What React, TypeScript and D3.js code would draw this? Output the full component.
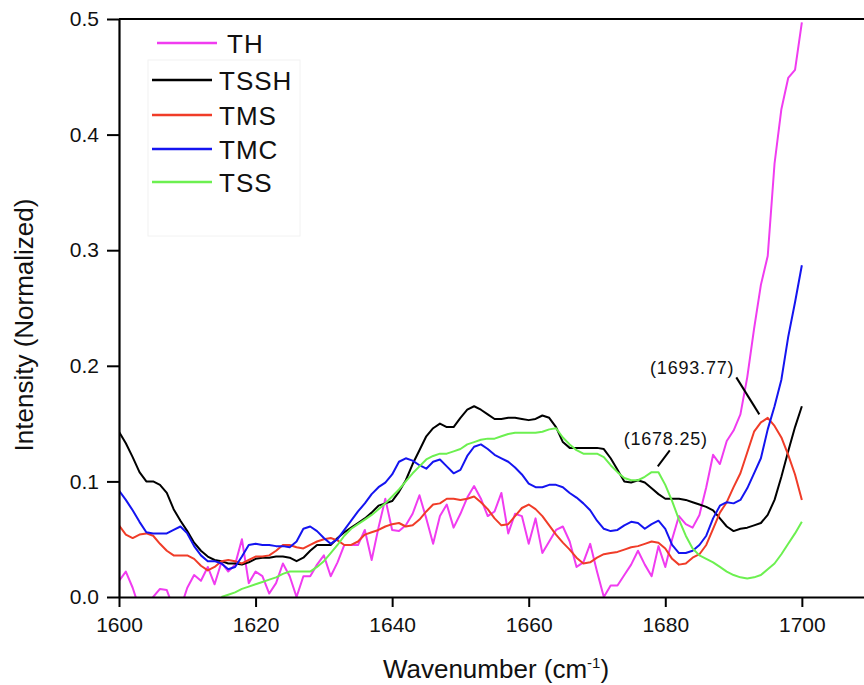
import * as d3 from 'd3';
import { useEffect, useRef } from 'react';

// wavenumber grid (cm-1), one point per unit
const wavenumbers = d3.range(1600, 1701);

const seriesNames = ['TH', 'TSSH', 'TMS', 'TMC', 'TSS'];
const seriesColors = ['#f03cf0', '#000000', '#f03c28', '#1414f0', '#6cf050'];

const TH = [
  0.014, 0.022, 0.008, -0.01, -0.01, 0.0, 0.007, 0.006, -0.01, -0.01,
  0.008, 0.019, 0.014, 0.026, 0.011, 0.03, 0.022, 0.028, 0.05, 0.012,
  0.022, 0.018, 0.003, 0.012, 0.029, 0.018, 0.0, 0.018, 0.018, 0.028,
  0.036, 0.018, 0.03, 0.045, 0.045, 0.045, 0.058, 0.032, 0.06, 0.085,
  0.058, 0.057, 0.062, 0.072, 0.088, 0.068, 0.046, 0.07, 0.08, 0.06,
  0.072, 0.086, 0.096, 0.085, 0.07, 0.074, 0.09, 0.055, 0.072, 0.07,
  0.046, 0.068, 0.038, 0.048, 0.058, 0.061, 0.048, 0.026, 0.03, 0.046,
  0.022, 0.0, 0.01, 0.01, 0.019, 0.028, 0.04, 0.028, 0.018, 0.044,
  0.026, 0.05, 0.07, 0.063, 0.06, 0.071, 0.095, 0.123, 0.115, 0.135,
  0.144, 0.158, 0.19, 0.232, 0.27, 0.295, 0.375, 0.422, 0.449, 0.456,
  0.497,
];

const TSSH = [
  0.143, 0.133, 0.121, 0.108, 0.1, 0.1, 0.097, 0.09, 0.076, 0.066,
  0.057, 0.047, 0.04, 0.035, 0.032, 0.031, 0.029, 0.029, 0.028, 0.03,
  0.033, 0.034, 0.034, 0.035, 0.035, 0.034, 0.031, 0.034, 0.04, 0.045,
  0.045, 0.045, 0.051, 0.056, 0.06, 0.064, 0.068, 0.073, 0.079, 0.081,
  0.083, 0.091, 0.101, 0.115, 0.127, 0.139, 0.146, 0.15, 0.147, 0.147,
  0.155, 0.162, 0.165, 0.162, 0.158, 0.154, 0.154, 0.155, 0.155, 0.154,
  0.153, 0.154, 0.157, 0.155, 0.147, 0.134, 0.129, 0.129, 0.129, 0.129,
  0.129, 0.128, 0.12, 0.11, 0.1, 0.099, 0.101, 0.099, 0.094, 0.089,
  0.085, 0.085, 0.085, 0.084, 0.082, 0.08, 0.078, 0.075, 0.068, 0.061,
  0.057, 0.059, 0.06, 0.062, 0.064, 0.071, 0.084, 0.104, 0.126, 0.147,
  0.165,
];

const TMS = [
  0.062, 0.054, 0.051, 0.054, 0.055, 0.053, 0.046, 0.04, 0.036, 0.036,
  0.036, 0.033, 0.027, 0.023, 0.026, 0.031, 0.032, 0.031, 0.029, 0.032,
  0.035, 0.035, 0.036, 0.04, 0.045, 0.045, 0.043, 0.042, 0.045, 0.048,
  0.05, 0.051, 0.049, 0.045, 0.045, 0.048, 0.054, 0.056, 0.058, 0.061,
  0.063, 0.064, 0.061, 0.062, 0.067, 0.074, 0.08, 0.081, 0.085, 0.085,
  0.084, 0.085, 0.087, 0.082, 0.076, 0.068, 0.062, 0.063, 0.07, 0.077,
  0.08, 0.076, 0.07, 0.062, 0.054, 0.047, 0.041, 0.034, 0.029, 0.03,
  0.034, 0.037, 0.038, 0.039, 0.041, 0.043, 0.044, 0.046, 0.048, 0.047,
  0.042, 0.033, 0.028, 0.029, 0.034, 0.037, 0.045, 0.059, 0.073, 0.082,
  0.095, 0.107, 0.125, 0.143, 0.151, 0.155, 0.148, 0.138, 0.123, 0.106,
  0.084,
];

const TMC = [
  0.092, 0.084, 0.075, 0.065, 0.056, 0.055, 0.055, 0.055, 0.058, 0.061,
  0.055, 0.044, 0.036, 0.031, 0.031, 0.029, 0.024, 0.026, 0.035, 0.045,
  0.046, 0.045, 0.045, 0.044, 0.044, 0.043, 0.048, 0.059, 0.061, 0.057,
  0.051, 0.046, 0.05, 0.058, 0.066, 0.074, 0.081, 0.089, 0.095, 0.099,
  0.106, 0.117, 0.12, 0.118, 0.114, 0.111, 0.117, 0.119, 0.113, 0.107,
  0.11, 0.122, 0.13, 0.132, 0.128, 0.123, 0.12, 0.117, 0.112, 0.106,
  0.098, 0.095, 0.095, 0.097, 0.097, 0.095, 0.09, 0.086, 0.081, 0.075,
  0.066, 0.059, 0.057, 0.058, 0.062, 0.065, 0.064, 0.059, 0.063, 0.066,
  0.059, 0.045, 0.038, 0.038, 0.04, 0.045, 0.053, 0.068, 0.079, 0.082,
  0.081, 0.084, 0.094, 0.107, 0.12, 0.145, 0.165, 0.188, 0.225, 0.255,
  0.287,
];

// TSS starts on the baseline around 1615
const TSS = [
  null, null, null, null, null, null, null, null, null, null,
  null, null, null, null, null, 0.0, 0.002, 0.004, 0.007, 0.009,
  0.011, 0.013, 0.015, 0.017, 0.02, 0.022, 0.022, 0.022, 0.022, 0.026,
  0.031, 0.038, 0.045, 0.053, 0.059, 0.063, 0.067, 0.071, 0.076, 0.081,
  0.087, 0.093, 0.1, 0.107, 0.113, 0.119, 0.122, 0.124, 0.124, 0.126,
  0.128, 0.132, 0.134, 0.136, 0.137, 0.137, 0.139, 0.141, 0.142, 0.142,
  0.142, 0.142, 0.143, 0.145, 0.146, 0.138, 0.132, 0.127, 0.124, 0.124,
  0.124, 0.121, 0.114, 0.108, 0.103, 0.101, 0.101, 0.104, 0.108, 0.108,
  0.097, 0.083, 0.067, 0.053, 0.042, 0.036, 0.033, 0.03, 0.026, 0.022,
  0.019, 0.017, 0.016, 0.017, 0.019, 0.024, 0.029, 0.037, 0.046, 0.055,
  0.065,
];

const seriesValues = [TH, TSSH, TMS, TMC, TSS];

const xTicks = [1600, 1620, 1640, 1660, 1680, 1700];
const yTicks = [0, 0.1, 0.2, 0.3, 0.4, 0.5];

// peak labels: [label, wavenumber, intensity at the leader's tip]
const peakLabels = [
  { label: '(1693.77)', wn: 1693.77, value: 0.158, dx: -23, dy: -37 },
  { label: '(1678.25)', wn: 1678.9, value: 0.113, dx: 12, dy: -16 },
];

const FONT = 'Liberation Sans, Arial, Helvetica, sans-serif';

const App = () => {
  const ref = useRef(null);

  useEffect(() => {
    const svg = d3.select(ref.current);
    svg.selectAll('*').remove();

    const width = 864;
    const height = 685;
    const margin = { top: 19, right: 0, bottom: 88, left: 119 };

    const x = d3.scaleLinear()
      .domain([1600, 1709.1])
      .range([margin.left, width - margin.right]);
    const y = d3.scaleLinear()
      .domain([0, 0.5])
      .range([height - margin.bottom, margin.top]);

    svg.append('defs').append('clipPath').attr('id', 'plot-clip')
      .append('rect')
      .attr('x', margin.left).attr('y', margin.top)
      .attr('width', width - margin.left - margin.right)
      .attr('height', height - margin.top - margin.bottom);

    // curves
    const line = d3.line<any>()
      .defined(d => d[1] !== null)
      .x(d => x(d[0]))
      .y(d => y(d[1]));

    const g = svg.append('g').attr('clip-path', 'url(#plot-clip)');
    seriesValues.forEach((vals, i) => {
      g.append('path')
        .datum(wavenumbers.map((w, j) => [w, vals[j]]))
        .attr('fill', 'none')
        .attr('stroke', seriesColors[i])
        .attr('stroke-width', 2)
        .attr('stroke-linejoin', 'round')
        .attr('d', line);
    });

    // axes
    const xAxis = d3.axisBottom(x).tickValues(xTicks).tickSize(10).tickSizeOuter(0).tickFormat(d3.format('d'));
    const yAxis = d3.axisLeft(y).tickValues(yTicks).tickSize(12).tickSizeOuter(0).tickFormat(d3.format('.1f'));

    const gx = svg.append('g')
      .attr('transform', `translate(0, ${y(0)})`)
      .call(xAxis);
    const gy = svg.append('g')
      .attr('transform', `translate(${margin.left}, 0)`)
      .call(yAxis);

    [gx, gy].forEach(a => {
      a.select('.domain').attr('stroke', '#000').attr('stroke-width', 2.2);
      a.selectAll('.tick line').attr('stroke', '#000').attr('stroke-width', 2);
      a.selectAll('.tick text')
        .attr('fill', '#111')
        .style('font-family', FONT)
        .style('font-size', '21px');
    });
    gx.selectAll('.tick text').attr('y', 0).attr('dy', 0).attr('transform', 'translate(0, 35)');
    gy.selectAll('.tick text').attr('x', -20);

    // top frame line
    svg.append('line')
      .attr('x1', margin.left).attr('x2', width)
      .attr('y1', y(0.5)).attr('y2', y(0.5))
      .attr('stroke', '#000').attr('stroke-width', 2.2);

    // axis titles
    const xt = svg.append('text')
      .attr('x', 496).attr('y', 678)
      .attr('text-anchor', 'middle')
      .style('font-family', FONT).style('font-size', '26px')
      .attr('fill', '#111');
    xt.append('tspan').text('Wavenumber (cm');
    xt.append('tspan').attr('dy', -10).style('font-size', '15px').text('-1');
    xt.append('tspan').attr('dy', 10).text(')');

    svg.append('text')
      .attr('transform', `translate(33, 325) rotate(-90)`)
      .attr('text-anchor', 'middle')
      .style('font-family', FONT).style('font-size', '26px')
      .attr('fill', '#111')
      .text('Intensity (Normalized)');

    // legend
    svg.append('rect')
      .attr('x', 148).attr('y', 60).attr('width', 152).attr('height', 176)
      .attr('fill', 'none').attr('stroke', '#f2f2f2').attr('stroke-width', 1);

    const legendRows = [
      { y: 43, x1: 157, x2: 217, tx: 227 },
      { y: 80, x1: 152, x2: 212, tx: 219 },
      { y: 115, x1: 152, x2: 212, tx: 219 },
      { y: 149, x1: 152, x2: 212, tx: 219 },
      { y: 182, x1: 152, x2: 212, tx: 219 },
    ];
    seriesNames.forEach((name, i) => {
      const r = legendRows[i];
      svg.append('line')
        .attr('x1', r.x1).attr('x2', r.x2).attr('y1', r.y).attr('y2', r.y)
        .attr('stroke', seriesColors[i]).attr('stroke-width', 2.5);
      svg.append('text')
        .attr('x', r.tx).attr('y', r.y + 9.5)
        .style('font-family', FONT).style('font-size', '26px')
        .style('letter-spacing', '1px')
        .attr('fill', '#111')
        .text(name);
    });

    // peak annotations
    peakLabels.forEach(p => {
      const px = x(p.wn);
      const py = y(p.value);
      svg.append('line')
        .attr('x1', px).attr('y1', py)
        .attr('x2', px + p.dx).attr('y2', py + p.dy)
        .attr('stroke', '#000').attr('stroke-width', 2);
    });
    svg.append('text')
      .attr('x', x(peakLabels[0].wn) + peakLabels[0].dx - 2)
      .attr('y', y(peakLabels[0].value) + peakLabels[0].dy - 3)
      .attr('text-anchor', 'end')
      .style('font-family', FONT).style('font-size', '18px').style('letter-spacing', '0.8px')
      .attr('fill', '#111')
      .text(peakLabels[0].label);
    svg.append('text')
      .attr('x', x(peakLabels[1].wn) + peakLabels[1].dx - 4)
      .attr('y', y(peakLabels[1].value) + peakLabels[1].dy - 5)
      .attr('text-anchor', 'middle')
      .style('font-family', FONT).style('font-size', '18px').style('letter-spacing', '0.8px')
      .attr('fill', '#111')
      .text(peakLabels[1].label);
  }, []);

  return (
    <svg
      ref={ref}
      width={864}
      height={685}
      style={{ position: 'absolute', left: 0, top: 0, background: '#fff' }}
    />
  );
};

export default App;
